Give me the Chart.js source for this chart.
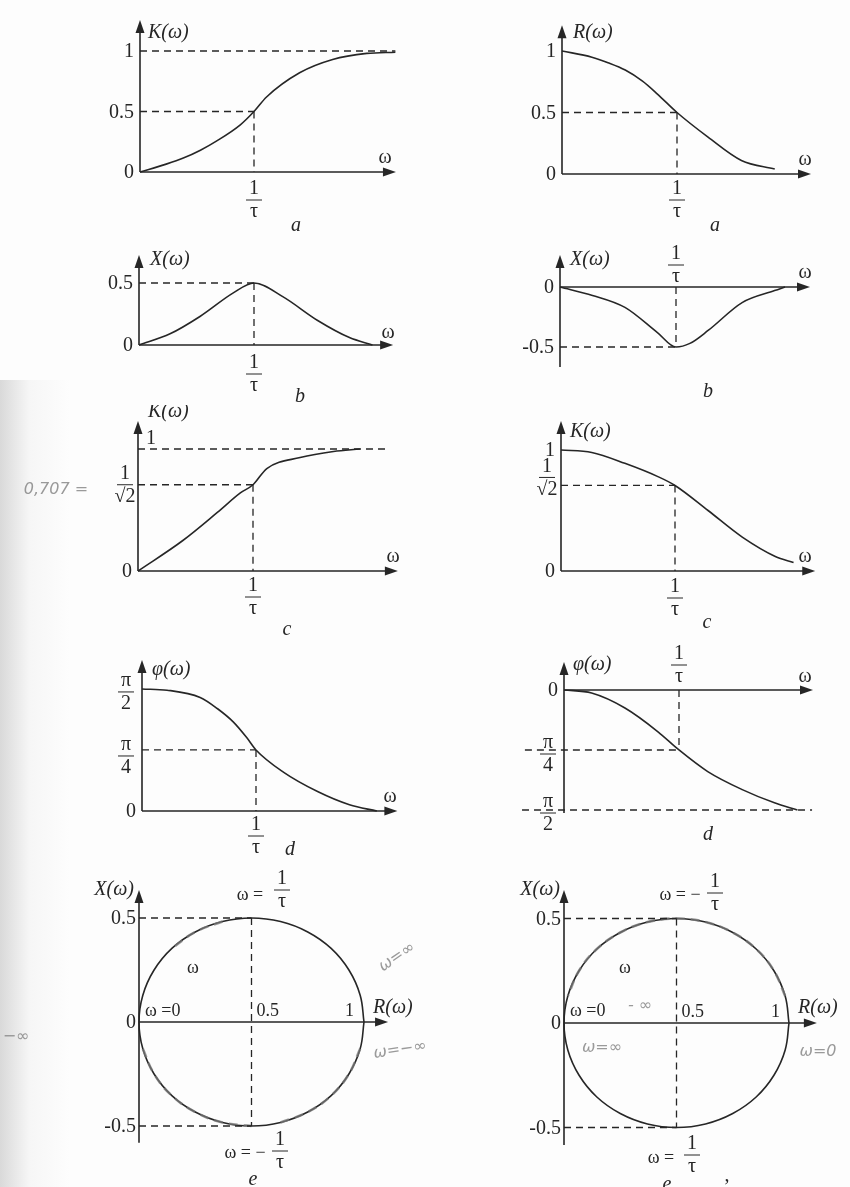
<!DOCTYPE html>
<html>
<head>
<meta charset="utf-8">
<script src="https://cdn.jsdelivr.net/npm/chart.js@4"></script>
<style>
  html, body { margin: 0; padding: 0; background: #fff; }
  #page { position: relative; width: 850px; height: 1187px; overflow: hidden; background: #fdfdfd; }
  #shade { position: absolute; left: 0; top: 380px; width: 70px; height: 807px;
    background: linear-gradient(to right, rgba(150,150,150,.35), rgba(200,200,200,.12) 30px, rgba(255,255,255,0)); }
  canvas { position: absolute; }
</style>
</head>
<body>
<div id="page"><div id="shade"></div></div>
<script>
// frequency is measured in units of 1/τ
const kaW = [0, 0.23, 0.38, 0.53, 0.67, 0.88, 1, 1.11, 1.4, 1.69, 1.99, 2.24];
const kaK = [0, 0.065, 0.115, 0.18, 0.255, 0.39, 0.5, 0.62, 0.82, 0.93, 0.98, 0.99];
const raW = [0, 0.26, 0.40, 0.55, 0.70, 0.83, 1, 1.27, 1.56, 1.85];
const raR = [1, 0.95, 0.905, 0.845, 0.755, 0.65, 0.5, 0.30, 0.11, 0.04];
const xbW = [0, 0.27, 0.53, 0.82, 1, 1.25, 1.55, 1.83, 2.03];
const xbX = [0, 0.09, 0.23, 0.42, 0.5, 0.39, 0.2, 0.06, 0];
const xnW = [0, 0.28, 0.56, 0.84, 1, 1.12, 1.28, 1.57, 1.85, 1.94];
const xnX = [0, -0.07, -0.17, -0.38, -0.5, -0.47, -0.36, -0.13, -0.03, 0];
const kcW = [0, 0.39, 0.69, 0.89, 1, 1.12, 1.41, 1.70, 1.93];
const kcK = [0, 0.25, 0.48, 0.64, 0.707, 0.84, 0.93, 0.98, 1];
const klW = [0, 0.27, 0.56, 0.85, 1, 1.29, 1.59, 1.88, 2.04];
const klK = [1, 0.98, 0.89, 0.78, 0.707, 0.5, 0.28, 0.12, 0.07];
// phase, radians
const phW = [0, 0.22, 0.51, 0.66, 0.80, 0.92, 1, 1.24, 1.54, 1.82, 2.06];
const phP = [1.571, 1.555, 1.461, 1.319, 1.147, 0.942, 0.785, 0.50, 0.25, 0.08, 0];
const pnW = [0, 0.24, 0.53, 0.82, 1, 1.25, 1.55, 1.83, 2.03];
const pnP = [0, -0.04, -0.236, -0.55, -0.785, -1.068, -1.304, -1.477, -1.571];
// hodograph points R(ω), X(ω)
const circR = [1, 0.983, 0.933, 0.854, 0.75, 0.629, 0.5, 0.371, 0.25, 0.146, 0.067, 0.017, 0,
  0.017, 0.067, 0.146, 0.25, 0.371, 0.5, 0.629, 0.75, 0.854, 0.933, 0.983, 1];
const circX = [0, 0.129, 0.25, 0.354, 0.433, 0.483, 0.5, 0.483, 0.433, 0.354, 0.25, 0.129, 0,
  -0.129, -0.25, -0.354, -0.433, -0.483, -0.5, -0.483, -0.433, -0.354, -0.25, -0.129, 0];

// tick labels
const ticksUnit = [0, 0.5, 1];
const ticksHalf = [0, 0.5];
const ticksNeg = [0, -0.5];
const ticksZero = [0];
const ticksZeroOne = [0, 1];
const ticksCircle = [0.5, 0, -0.5];
const ticksCircleX = [0.5, 1];

const INK = '#262626';
const PENCIL = 'rgba(120,120,120,0.75)';
const SERIF = '"Liberation Serif", "DejaVu Serif", serif';
const F = '20px ' + SERIF;
const FI = 'italic 20px ' + SERIF;
const FS = '18px ' + SERIF;
const HAND = 'italic 16px "DejaVu Sans", sans-serif';
const PI2 = Math.PI / 2, PI4 = Math.PI / 4;

const pencil = { color: PENCIL, width: 2.6, dash: [9, 6] };

const panels = [
  { box: [0, 0, 425, 240], origin: [140, 172], unit: [114, 121], xTip: 2.245, yTip: 1.256,
    series: [[kaW, kaK]],
    guides: [[0, 1, 2.24, 1], [0, 0.5, 1, 0.5], [1, 0.5, 1, 0]],
    yTicks: ticksUnit, xFracs: [[1, 28]],
    text: [['K(ω)', 148, 33, FI, 'left'], ['ω', 385, 158, F], ['a', 296, 226, FI]] },
  { box: [425, 0, 425, 240], origin: [562, 174], unit: [115, 123], xTip: 2.165, yTip: 1.21,
    series: [[raW, raR]],
    guides: [[0, 0.5, 1, 0.5], [1, 0.5, 1, 0]],
    yTicks: ticksUnit, xFracs: [[1, 26]],
    text: [['R(ω)', 573, 33, FI, 'left'], ['ω', 805, 160, F], ['a', 715, 226, FI]] },
  { box: [0, 240, 425, 165], origin: [139, 345], unit: [115, 124], xTip: 2.21, yTip: 0.726,
    series: [[xbW, xbX]],
    guides: [[0, 0.5, 1, 0.5], [1, 0.5, 1, 0]],
    yTicks: ticksHalf, xFracs: [[1, 29]],
    text: [['X(ω)', 150, 260, FI, 'left'], ['ω', 388, 333, F], ['b', 300, 397, FI]] },
  { box: [425, 240, 425, 160], origin: [560, 287], unit: [116, 120], xTip: 2.155, yTip: 0.267, yFrom: -0.667,
    series: [[xnW, xnX]],
    guides: [[0, -0.5, 1, -0.5], [1, 0, 1, -0.5]],
    yTicks: ticksNeg, xFracs: [[1, -22]],
    text: [['X(ω)', 570, 260, FI, 'left'], ['ω', 805, 273, F], ['b', 708, 392, FI]] },
  { box: [0, 405, 425, 235], origin: [138, 571], unit: [115, 122], xTip: 2.26, yTip: 1.23,
    series: [[kcW, kcK]],
    guides: [[0, 1, 2.17, 1], [0, 0.707, 1, 0.707], [1, 0.707, 1, 0]],
    yTicks: ticksZero, yFracs: [['1', '√2', 0.707, -13, 0]], xFracs: [[1, 26]],
    text: [['K(ω)', 148, 412, FI, 'left'], ['1', 146, 439, F, 'left'], ['ω', 393, 557, F],
      ['c', 287, 630, FI], ['0,707 =', 56, 490, HAND, 'center', PENCIL]] },
  { box: [425, 400, 425, 235], origin: [561, 571], unit: [114, 121], xTip: 2.23, yTip: 1.24,
    series: [[klW, klK]],
    guides: [[0, 0.707, 1, 0.707], [1, 0.707, 1, 0]],
    yTicks: ticksZeroOne, yFracs: [['1', '√2', 0.707, -14, -8]], xFracs: [[1, 27]],
    text: [['K(ω)', 570, 432, FI, 'left'], ['ω', 805, 557, F], ['c', 707, 623, FI]] },
  { box: [0, 640, 425, 215], origin: [142, 811], unit: [114, 77.7], xTip: 2.24, yTip: 1.943,
    series: [[phW, phP]],
    guides: [[0, PI4, 1, PI4], [1, PI4, 1, 0]],
    yTicks: ticksZero, yFracs: [['π', '2', PI2, -16, 3], ['π', '4', PI4, -16, 6]], xFracs: [[1, 25]],
    text: [['φ(ω)', 152, 670, FI, 'left'], ['ω', 390, 797, F], ['d', 290, 850, FI]] },
  { box: [425, 635, 425, 210], origin: [564, 690], unit: [115, 76.4], xTip: 2.165, yTip: 0.366, yFrom: -1.61,
    series: [[pnW, pnP]],
    guides: [[-0.34, -PI4, 1, -PI4], [-0.365, -PI2, 2.157, -PI2], [1, 0, 1, -PI4]],
    yTicks: ticksZero, yFracs: [['π', '4', -PI4, -16, 4], ['π', '2', -PI2, -16, 3]], xFracs: [[1, -25]],
    text: [['φ(ω)', 573, 665, FI, 'left'], ['ω', 805, 677, F], ['d', 708, 835, FI]] },
  { box: [0, 855, 425, 332], origin: [139, 1022], unit: [225, 208], xTip: 1.107, yTip: 0.635, yFrom: -0.58,
    loop: true,
    series: [[circR, circX],
      [circR.slice(13, 19), circX.slice(13, 19), pencil],
      [circR.slice(19, 24), circX.slice(19, 24), pencil],
      [circR.slice(7, 10), circX.slice(7, 10), pencil]],
    guides: [[0, 0.5, 0.5, 0.5], [0, -0.5, 0.5, -0.5], [0.5, 0.5, 0.5, -0.5]],
    yTicks: ticksCircle, tickDx: -3,
    xTicks: ticksCircleX, xTickDx: [5, -10],
    pageFracs: [['1', 'τ', 282, 890], ['1', 'τ', 280, 1151]],
    text: [['X(ω)', 134, 890, FI, 'right'], ['R(ω)', 373, 1008, FI, 'left'], ['ω =0', 145, 1011, FS, 'left'],
      ['ω', 193, 968, FS], ['ω =', 250, 895, FS], ['ω = −', 245, 1153, FS], ['e', 253, 1180, FI],
      ['ω=∞', 397, 957, HAND, 'center', PENCIL, -0.6], ['ω=−∞', 400, 1050, HAND, 'center', PENCIL, -0.15],
      ['−∞', 16, 1037, HAND, 'center', PENCIL]] },
  { box: [425, 845, 425, 342], origin: [564, 1023], unit: [225, 209], xTip: 1.124, yTip: 0.636, yFrom: -0.584,
    loop: true,
    series: [[circR, circX], [circR.slice(1, 12), circX.slice(1, 12), pencil]],
    guides: [[0, 0.5, 0.5, 0.5], [0, -0.5, 0.5, -0.5], [0.5, 0.5, 0.5, -0.5]],
    yTicks: ticksCircle, tickDx: -3,
    xTicks: ticksCircleX, xTickDx: [5, -9],
    pageFracs: [['1', 'τ', 715, 893], ['1', 'τ', 692, 1155]],
    text: [['X(ω)', 560, 890, FI, 'right'], ['R(ω)', 798, 1008, FI, 'left'], ['ω =0', 570, 1011, FS, 'left'],
      ['ω', 625, 968, FS], ['ω = −', 680, 895, FS], ['ω =', 661, 1158, FS], ['e', 667, 1185, FI], [',', 727, 1176, F],
      ['- ∞', 640, 1006, HAND, 'center', PENCIL], ['ω=∞', 602, 1048, HAND, 'center', PENCIL],
      ['ω=0', 818, 1052, HAND, 'center', PENCIL]] }
];

function txt(ctx, s, x, y, font, align, color, rot) {
  ctx.save();
  ctx.translate(x, y);
  if (rot) ctx.rotate(rot);
  ctx.font = font || F;
  ctx.textAlign = align || 'center';
  ctx.textBaseline = 'middle';
  ctx.fillStyle = color || INK;
  ctx.fillText(s, 0, 0);
  ctx.restore();
}

function frac(ctx, n, d, cx, by) {
  txt(ctx, n, cx, by - 11, F);
  ctx.save();
  ctx.lineWidth = 1;
  ctx.strokeStyle = INK;
  ctx.beginPath(); ctx.moveTo(cx - 8, by); ctx.lineTo(cx + 8, by); ctx.stroke();
  ctx.restore();
  txt(ctx, d, cx, by + 12, F);
}

function arrowHead(ctx, x, y, dir) {
  ctx.beginPath();
  if (dir === 'right') { ctx.moveTo(x, y); ctx.lineTo(x - 13, y - 4.5); ctx.lineTo(x - 13, y + 4.5); }
  else { ctx.moveTo(x, y); ctx.lineTo(x - 4.5, y + 13); ctx.lineTo(x + 4.5, y + 13); }
  ctx.closePath();
  ctx.fill();
}

function makeOverlay(p) {
  return {
    id: 'overlay',
    afterDraw(chart) {
      const ctx = chart.ctx;
      const X = v => chart.scales.x.getPixelForValue(v);
      const Y = v => chart.scales.y.getPixelForValue(v);
      const [bl, bt] = p.box;
      const x0 = X(0), y0 = Y(0);
      ctx.save();
      ctx.strokeStyle = INK;
      ctx.fillStyle = INK;

      // dashed guide lines
      ctx.lineWidth = 1.3;
      ctx.setLineDash([7, 5]);
      p.guides.forEach(([a, b, c, d]) => {
        ctx.beginPath(); ctx.moveTo(X(a), Y(b)); ctx.lineTo(X(c), Y(d)); ctx.stroke();
      });
      ctx.setLineDash([]);

      // axes with arrows
      ctx.lineWidth = 1.6;
      ctx.beginPath();
      ctx.moveTo(X(p.xFrom || 0), y0); ctx.lineTo(X(p.xTip) - 10, y0);
      ctx.moveTo(x0, Y(p.yFrom || 0)); ctx.lineTo(x0, Y(p.yTip) + 10);
      ctx.stroke();
      arrowHead(ctx, X(p.xTip), y0, 'right');
      arrowHead(ctx, x0, Y(p.yTip), 'up');

      const dx = p.tickDx || -6;
      (p.yTicks || []).forEach(v => txt(ctx, String(v), x0 + dx, Y(v) + 1, F, 'right'));
      (p.xTicks || []).forEach((v, i) => {
        const off = p.xTickDx[i];
        txt(ctx, String(v), X(v) + off, y0 - 11, FS, off > 0 ? 'left' : 'right');
      });
      (p.yFracs || []).forEach(([n, d, v, fx, fy]) => frac(ctx, n, d, x0 + fx, Y(v) + fy));
      (p.xFracs || []).forEach(([v, fy]) => frac(ctx, '1', 'τ', X(v), y0 + fy));
      (p.pageFracs || []).forEach(([n, d, px, py]) => frac(ctx, n, d, px - bl, py - bt));
      (p.text || []).forEach(([s, px, py, font, align, color, rot]) =>
        txt(ctx, s, px - bl, py - bt, font, align, color, rot));
      ctx.restore();
    }
  };
}

const page = document.getElementById('page');

panels.forEach(p => {
  const [bl, bt, bw, bh] = p.box;
  const [ox, oy] = p.origin;
  const [sx, sy] = p.unit;
  const canvas = document.createElement('canvas');
  canvas.width = bw;
  canvas.height = bh;
  canvas.style.left = bl + 'px';
  canvas.style.top = bt + 'px';
  page.appendChild(canvas);

  // pencil strokes sit on top of the printed curve (lower order is drawn last)
  const datasets = p.series.map(([xs, ys, st]) => ({
    data: xs.map((x, i) => ({ x, y: ys[i] })),
    showLine: true,
    order: st ? 0 : 1,
    borderColor: st ? st.color : INK,
    borderWidth: st ? st.width : 1.6,
    borderDash: st ? st.dash : [],
    pointRadius: 0,
    tension: 0.4,
    cubicInterpolationMode: p.loop ? 'default' : 'monotone',
    fill: false
  }));

  new Chart(canvas.getContext('2d'), {
    type: 'scatter',
    data: { datasets },
    options: {
      responsive: false,
      animation: false,
      events: [],
      layout: { padding: 0 },
      plugins: { legend: { display: false }, tooltip: { enabled: false } },
      scales: {
        x: { type: 'linear', display: false, bounds: 'data',
             min: (bl - ox) / sx, max: (bl + bw - ox) / sx },
        y: { type: 'linear', display: false, bounds: 'data',
             min: (oy - bt - bh) / sy, max: (oy - bt) / sy }
      }
    },
    plugins: [makeOverlay(p)]
  });
});
</script>
</body>
</html>
